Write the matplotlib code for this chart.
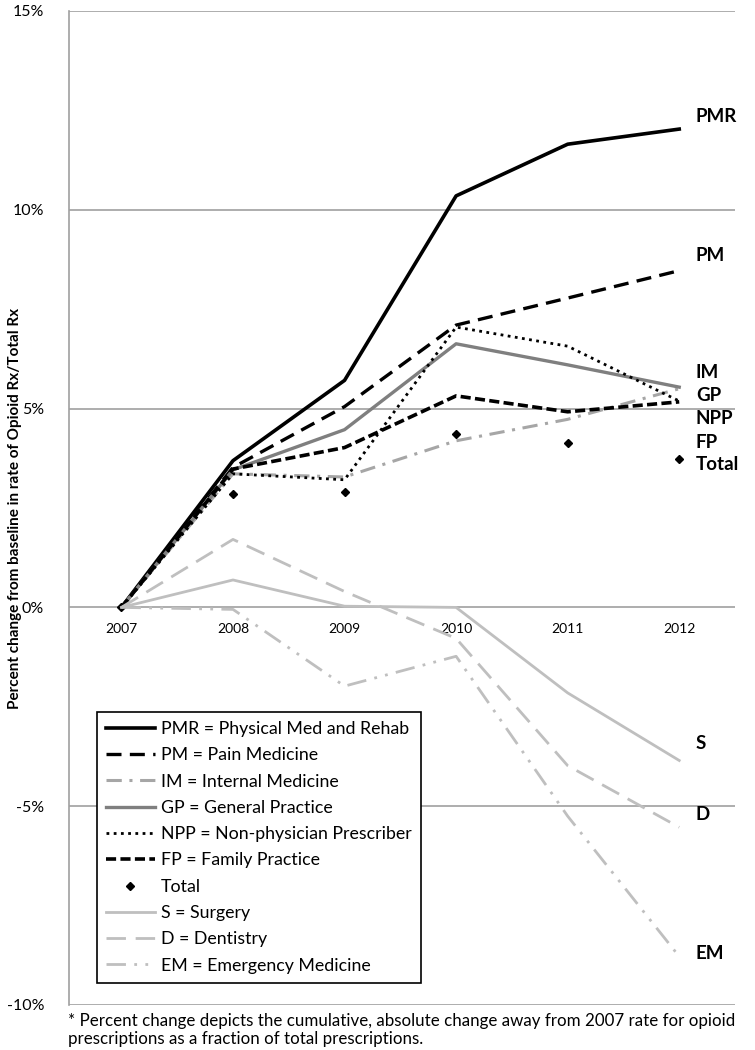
import matplotlib
matplotlib.use("Agg")
import matplotlib.pyplot as plt
from matplotlib.lines import Line2D

plt.rcParams['font.family'] = ['Lato', 'DejaVu Sans']

years = ["2007", "2008", "2009", "2010", "2011", "2012"]

# percent change from 2007 baseline
pmr = [0, 3.69, 5.71, 10.35, 11.65, 12.03]
pm = [0, 3.52, 5.05, 7.10, 7.78, 8.47]
im = [0, 3.36, 3.28, 4.19, 4.73, 5.50]
gp = [0, 3.46, 4.47, 6.63, 6.10, 5.54]
npp = [0, 3.36, 3.21, 7.05, 6.57, 5.19]
fp = [0, 3.48, 4.02, 5.32, 4.92, 5.17]
total = [0, 2.84, 2.90, 4.36, 4.13, 3.73]
surg = [0, 0.69, 0.03, 0.0, -2.15, -3.85]
dent = [0, 1.71, 0.40, -0.78, -3.98, -5.53]
em = [0, -0.05, -1.98, -1.23, -5.25, -8.78]

end_labels = ["PMR", "PM", "IM", "GP", "NPP", "FP", "Total", "S", "D", "EM"]
end_label_y = [12.35, 8.85, 5.92, 5.33, 4.75, 4.15, 3.60, -3.43, -5.20, -8.70]

legend_labels = ["PMR = Physical Med and Rehab", "PM = Pain Medicine",
                 "IM = Internal Medicine", "GP = General Practice",
                 "NPP = Non-physician Prescriber", "FP = Family Practice",
                 "Total", "S = Surgery", "D = Dentistry",
                 "EM = Emergency Medicine"]

yticks = [-10, -5, 0, 5, 10, 15]
ytick_labels = ["-10%", "-5%", "0%", "5%", "10%", "15%"]

fig = plt.figure(figsize=(7.55, 10.5), dpi=100)
ax = fig.add_axes([69 / 755, 1 - 1005 / 1050, (735 - 69) / 755, (1005 - 11) / 1050])

x = list(range(len(years)))

styles = [
    (pmr, dict(color='black', lw=2.6, ls='-')),
    (pm, dict(color='black', lw=2.4, ls=(0, (4.5, 2.5)))),
    (im, dict(color='#a6a6a6', lw=2.2, ls=(0, (5, 2.5, 1, 2.5)))),
    (gp, dict(color='#7f7f7f', lw=2.4, ls='-')),
    (npp, dict(color='black', lw=2.0, ls=(0, (1, 1.6)))),
    (fp, dict(color='black', lw=2.6, ls=(0, (2.8, 1.2)))),
    (total, dict(color='black', lw=0, ls='none', marker='D', ms=4)),
    (surg, dict(color='#bfbfbf', lw=2.0, ls='-')),
    (dent, dict(color='#bfbfbf', lw=2.0, ls=(0, (7, 3.5)))),
    (em, dict(color='#bfbfbf', lw=2.0, ls=(0, (7, 3, 1, 3, 1, 3)))),
]

handles = []
for vals, st in styles:
    ax.plot(x, vals, **st)
    handles.append(Line2D([], [], **st))

for lab, yv in zip(end_labels, end_label_y):
    ax.text(5.15, yv, lab, fontsize=13.5, fontweight='bold', ha='left', va='center')

ax.set_xlim(-0.47, 5.5)
ax.set_ylim(-10, 15)
ax.set_yticks(yticks)
ax.set_yticklabels(ytick_labels, fontsize=11.5)
ax.yaxis.grid(True, color='#a0a0a0', lw=1.2)
ax.set_axisbelow(True)
ax.tick_params(axis='y', length=0, pad=18)

ax.set_xticks(x)
ax.set_xticklabels(years, fontsize=12.5)
ax.spines['bottom'].set_position(('data', 0))
ax.spines['bottom'].set_visible(False)
ax.tick_params(axis='x', length=0, pad=11)

for s in ['top', 'right']:
    ax.spines[s].set_visible(False)
ax.spines['left'].set_color('#a0a0a0')
ax.spines['left'].set_linewidth(1.2)

fig.text(15 / 755, 1 - 508 / 1050,
         "Percent change from baseline in rate of Opioid Rx/Total Rx",
         rotation=90, fontsize=11, fontweight='bold', ha='center', va='center')

leg = ax.legend(handles, legend_labels, loc='upper left',
                bbox_to_anchor=(97 / 755, 1 - 712 / 1050),
                bbox_transform=fig.transFigure, borderaxespad=0,
                fontsize=12.8, handlelength=2.75, handletextpad=0.35,
                labelspacing=0.58, fancybox=False, framealpha=1,
                borderpad=0.5)
leg.get_frame().set_edgecolor('black')
leg.get_frame().set_linewidth(1.2)

fig.text(68 / 755, 1 - 1021 / 1050,
         "* Percent change depicts the cumulative, absolute change away from 2007 rate for opioid",
         fontsize=12.2, ha='left', va='center')
fig.text(68 / 755, 1 - 1039 / 1050,
         "prescriptions as a fraction of total prescriptions.",
         fontsize=12.2, ha='left', va='center')

fig.savefig("out.png", dpi=100)
